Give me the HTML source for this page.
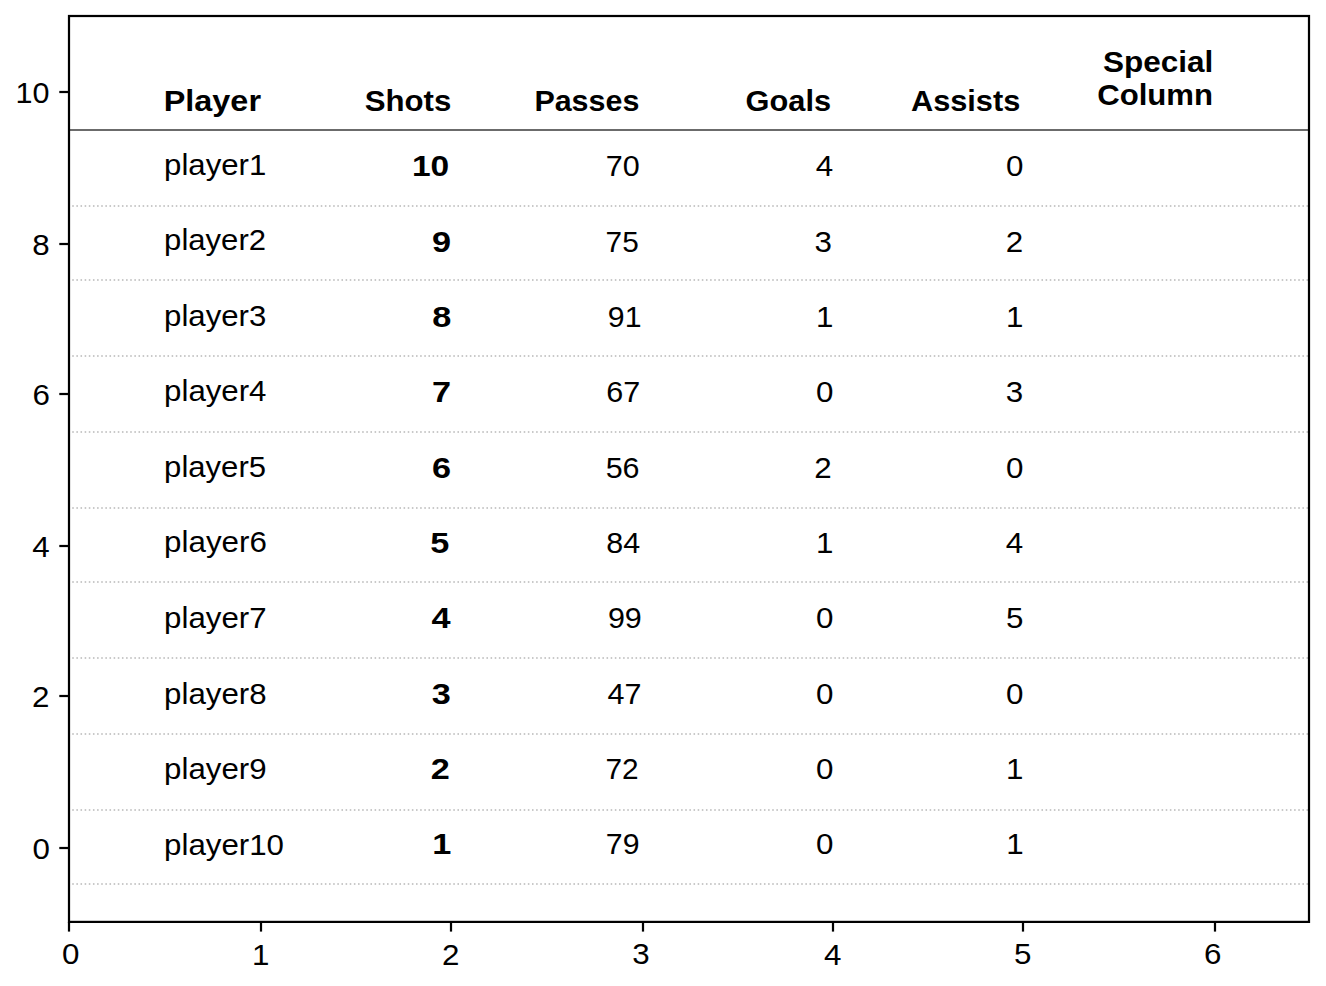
<!DOCTYPE html><html><head><meta charset="utf-8"><style>html,body{margin:0;padding:0;background:#fff;}svg{display:block;}text{font-family:"Liberation Sans",sans-serif;}</style></head><body>
<div class="w">
<svg width="1326" height="986" viewBox="0 0 1326 986">
<rect x="0" y="0" width="1326" height="986" fill="#fff"/>
<line x1="68.08" y1="206" x2="1308" y2="206" stroke="#b8b8b8" stroke-width="1.7" stroke-dasharray="1.56 2.582"/>
<line x1="68.08" y1="280" x2="1308" y2="280" stroke="#b8b8b8" stroke-width="1.7" stroke-dasharray="1.56 2.582"/>
<line x1="68.08" y1="356" x2="1308" y2="356" stroke="#b8b8b8" stroke-width="1.7" stroke-dasharray="1.56 2.582"/>
<line x1="68.08" y1="432" x2="1308" y2="432" stroke="#b8b8b8" stroke-width="1.7" stroke-dasharray="1.56 2.582"/>
<line x1="68.08" y1="508" x2="1308" y2="508" stroke="#b8b8b8" stroke-width="1.7" stroke-dasharray="1.56 2.582"/>
<line x1="68.08" y1="582" x2="1308" y2="582" stroke="#b8b8b8" stroke-width="1.7" stroke-dasharray="1.56 2.582"/>
<line x1="68.08" y1="658" x2="1308" y2="658" stroke="#b8b8b8" stroke-width="1.7" stroke-dasharray="1.56 2.582"/>
<line x1="68.08" y1="734" x2="1308" y2="734" stroke="#b8b8b8" stroke-width="1.7" stroke-dasharray="1.56 2.582"/>
<line x1="68.08" y1="810" x2="1308" y2="810" stroke="#b8b8b8" stroke-width="1.7" stroke-dasharray="1.56 2.582"/>
<line x1="68.08" y1="884" x2="1308" y2="884" stroke="#b8b8b8" stroke-width="1.7" stroke-dasharray="1.56 2.582"/>
<line x1="69" y1="130" x2="1309" y2="130" stroke="#6b6b6b" stroke-width="2"/>
<rect x="69" y="16" width="1240" height="905.9" fill="none" stroke="#000" stroke-width="2.22"/>
<line x1="59.3" y1="92" x2="69" y2="92" stroke="#000" stroke-width="2.22"/>
<line x1="59.3" y1="244" x2="69" y2="244" stroke="#000" stroke-width="2.22"/>
<line x1="59.3" y1="394" x2="69" y2="394" stroke="#000" stroke-width="2.22"/>
<line x1="59.3" y1="546" x2="69" y2="546" stroke="#000" stroke-width="2.22"/>
<line x1="59.3" y1="696" x2="69" y2="696" stroke="#000" stroke-width="2.22"/>
<line x1="59.3" y1="848" x2="69" y2="848" stroke="#000" stroke-width="2.22"/>
<line x1="69" y1="921.9" x2="69" y2="931.6" stroke="#000" stroke-width="2.22"/>
<line x1="261" y1="921.9" x2="261" y2="931.6" stroke="#000" stroke-width="2.22"/>
<line x1="451" y1="921.9" x2="451" y2="931.6" stroke="#000" stroke-width="2.22"/>
<line x1="643" y1="921.9" x2="643" y2="931.6" stroke="#000" stroke-width="2.22"/>
<line x1="833" y1="921.9" x2="833" y2="931.6" stroke="#000" stroke-width="2.22"/>
<line x1="1023" y1="921.9" x2="1023" y2="931.6" stroke="#000" stroke-width="2.22"/>
<line x1="1215" y1="921.9" x2="1215" y2="931.6" stroke="#000" stroke-width="2.22"/>
<text transform="translate(164.11 174.60) scale(1.0822 1)" font-size="28.8" font-weight="normal" fill="#000">player1</text>
<text transform="translate(411.89 176.30) scale(1.1638 1)" font-size="28.8" font-weight="bold" fill="#000">10</text>
<text transform="translate(605.76 176.30) scale(1.0598 1)" font-size="28.8" font-weight="normal" fill="#000">70</text>
<text transform="translate(815.85 176.30) scale(1.0878 1)" font-size="28.8" font-weight="normal" fill="#000">4</text>
<text transform="translate(1006.05 176.30) scale(1.0878 1)" font-size="28.8" font-weight="normal" fill="#000">0</text>
<text transform="translate(164.11 250.17) scale(1.0795 1)" font-size="28.8" font-weight="normal" fill="#000">player2</text>
<text transform="translate(431.98 251.63) scale(1.1902 1)" font-size="28.8" font-weight="bold" fill="#000">9</text>
<text transform="translate(605.62 251.63) scale(1.0342 1)" font-size="28.8" font-weight="normal" fill="#000">75</text>
<text transform="translate(814.40 251.63) scale(1.0878 1)" font-size="28.8" font-weight="normal" fill="#000">3</text>
<text transform="translate(1005.85 251.63) scale(1.0878 1)" font-size="28.8" font-weight="normal" fill="#000">2</text>
<text transform="translate(164.11 325.74) scale(1.0820 1)" font-size="28.8" font-weight="normal" fill="#000">player3</text>
<text transform="translate(432.23 326.96) scale(1.1902 1)" font-size="28.8" font-weight="bold" fill="#000">8</text>
<text transform="translate(607.86 326.96) scale(1.0513 1)" font-size="28.8" font-weight="normal" fill="#000">91</text>
<text transform="translate(815.99 326.96) scale(1.0878 1)" font-size="28.8" font-weight="normal" fill="#000">1</text>
<text transform="translate(1005.99 326.96) scale(1.0878 1)" font-size="28.8" font-weight="normal" fill="#000">1</text>
<text transform="translate(164.10 401.31) scale(1.0842 1)" font-size="28.8" font-weight="normal" fill="#000">player4</text>
<text transform="translate(431.98 402.29) scale(1.1902 1)" font-size="28.8" font-weight="bold" fill="#000">7</text>
<text transform="translate(606.23 402.29) scale(1.0603 1)" font-size="28.8" font-weight="normal" fill="#000">67</text>
<text transform="translate(816.10 402.29) scale(1.0878 1)" font-size="28.8" font-weight="normal" fill="#000">0</text>
<text transform="translate(1005.85 402.29) scale(1.0878 1)" font-size="28.8" font-weight="normal" fill="#000">3</text>
<text transform="translate(164.11 476.88) scale(1.0792 1)" font-size="28.8" font-weight="normal" fill="#000">player5</text>
<text transform="translate(431.98 477.62) scale(1.1902 1)" font-size="28.8" font-weight="bold" fill="#000">6</text>
<text transform="translate(605.65 477.62) scale(1.0593 1)" font-size="28.8" font-weight="normal" fill="#000">56</text>
<text transform="translate(814.15 477.62) scale(1.0878 1)" font-size="28.8" font-weight="normal" fill="#000">2</text>
<text transform="translate(1006.10 477.62) scale(1.0878 1)" font-size="28.8" font-weight="normal" fill="#000">0</text>
<text transform="translate(164.10 552.45) scale(1.0874 1)" font-size="28.8" font-weight="normal" fill="#000">player6</text>
<text transform="translate(430.23 552.95) scale(1.1902 1)" font-size="28.8" font-weight="bold" fill="#000">5</text>
<text transform="translate(606.25 552.95) scale(1.0583 1)" font-size="28.8" font-weight="normal" fill="#000">84</text>
<text transform="translate(816.04 552.95) scale(1.0878 1)" font-size="28.8" font-weight="normal" fill="#000">1</text>
<text transform="translate(1005.80 552.95) scale(1.0878 1)" font-size="28.8" font-weight="normal" fill="#000">4</text>
<text transform="translate(164.10 628.02) scale(1.0849 1)" font-size="28.8" font-weight="normal" fill="#000">player7</text>
<text transform="translate(431.53 628.28) scale(1.1902 1)" font-size="28.8" font-weight="bold" fill="#000">4</text>
<text transform="translate(607.90 628.28) scale(1.0593 1)" font-size="28.8" font-weight="normal" fill="#000">99</text>
<text transform="translate(816.10 628.28) scale(1.0878 1)" font-size="28.8" font-weight="normal" fill="#000">0</text>
<text transform="translate(1006.10 628.28) scale(1.0878 1)" font-size="28.8" font-weight="normal" fill="#000">5</text>
<text transform="translate(164.10 703.59) scale(1.0847 1)" font-size="28.8" font-weight="normal" fill="#000">player8</text>
<text transform="translate(431.83 703.61) scale(1.1902 1)" font-size="28.8" font-weight="bold" fill="#000">3</text>
<text transform="translate(607.46 703.61) scale(1.0588 1)" font-size="28.8" font-weight="normal" fill="#000">47</text>
<text transform="translate(816.10 703.61) scale(1.0878 1)" font-size="28.8" font-weight="normal" fill="#000">0</text>
<text transform="translate(1006.10 703.61) scale(1.0878 1)" font-size="28.8" font-weight="normal" fill="#000">0</text>
<text transform="translate(164.10 779.16) scale(1.0847 1)" font-size="28.8" font-weight="normal" fill="#000">player9</text>
<text transform="translate(430.68 778.94) scale(1.1902 1)" font-size="28.8" font-weight="bold" fill="#000">2</text>
<text transform="translate(605.50 778.94) scale(1.0345 1)" font-size="28.8" font-weight="normal" fill="#000">72</text>
<text transform="translate(816.10 778.94) scale(1.0878 1)" font-size="28.8" font-weight="normal" fill="#000">0</text>
<text transform="translate(1005.99 778.94) scale(1.0878 1)" font-size="28.8" font-weight="normal" fill="#000">1</text>
<text transform="translate(164.10 854.73) scale(1.0860 1)" font-size="28.8" font-weight="normal" fill="#000">player10</text>
<text transform="translate(432.18 854.27) scale(1.1902 1)" font-size="28.8" font-weight="bold" fill="#000">1</text>
<text transform="translate(605.85 854.27) scale(1.0513 1)" font-size="28.8" font-weight="normal" fill="#000">79</text>
<text transform="translate(816.10 854.27) scale(1.0878 1)" font-size="28.8" font-weight="normal" fill="#000">0</text>
<text transform="translate(1006.24 854.27) scale(1.0878 1)" font-size="28.8" font-weight="normal" fill="#000">1</text>
<text transform="translate(163.75 110.60) scale(1.1250 1)" font-size="28.8" font-weight="bold" fill="#000">Player</text>
<text transform="translate(364.67 110.60) scale(1.0836 1)" font-size="28.8" font-weight="bold" fill="#000">Shots</text>
<text transform="translate(534.39 110.60) scale(1.0573 1)" font-size="28.8" font-weight="bold" fill="#000">Passes</text>
<text transform="translate(745.62 110.60) scale(1.0677 1)" font-size="28.8" font-weight="bold" fill="#000">Goals</text>
<text transform="translate(910.95 110.60) scale(1.0672 1)" font-size="28.8" font-weight="bold" fill="#000">Assists</text>
<text transform="translate(1102.91 72.40) scale(1.0946 1)" font-size="28.8" font-weight="bold" fill="#000">Special</text>
<text transform="translate(1097.15 104.60) scale(1.0817 1)" font-size="28.8" font-weight="bold" fill="#000">Column</text>
<text transform="translate(32.43 858.85) scale(1.0878 1)" font-size="28.8" font-weight="normal" fill="#000">0</text>
<text transform="translate(32.05 707.10) scale(1.0878 1)" font-size="28.8" font-weight="normal" fill="#000">2</text>
<text transform="translate(32.30 556.85) scale(1.0878 1)" font-size="28.8" font-weight="normal" fill="#000">4</text>
<text transform="translate(32.41 404.85) scale(1.0878 1)" font-size="28.8" font-weight="normal" fill="#000">6</text>
<text transform="translate(32.30 254.85) scale(1.0878 1)" font-size="28.8" font-weight="normal" fill="#000">8</text>
<text transform="translate(15.57 102.85) scale(1.0614 1)" font-size="28.8" font-weight="normal" fill="#000">10</text>
<text transform="translate(62.10 964.40) scale(1.0878 1)" font-size="28.8" font-weight="normal" fill="#000">0</text>
<text transform="translate(252.09 964.90) scale(1.0878 1)" font-size="28.8" font-weight="normal" fill="#000">1</text>
<text transform="translate(442.00 964.90) scale(1.0878 1)" font-size="28.8" font-weight="normal" fill="#000">2</text>
<text transform="translate(632.20 964.40) scale(1.0878 1)" font-size="28.8" font-weight="normal" fill="#000">3</text>
<text transform="translate(823.90 964.90) scale(1.0878 1)" font-size="28.8" font-weight="normal" fill="#000">4</text>
<text transform="translate(1014.10 964.40) scale(1.0878 1)" font-size="28.8" font-weight="normal" fill="#000">5</text>
<text transform="translate(1204.06 964.40) scale(1.0878 1)" font-size="28.8" font-weight="normal" fill="#000">6</text>
</svg></div></body></html>
